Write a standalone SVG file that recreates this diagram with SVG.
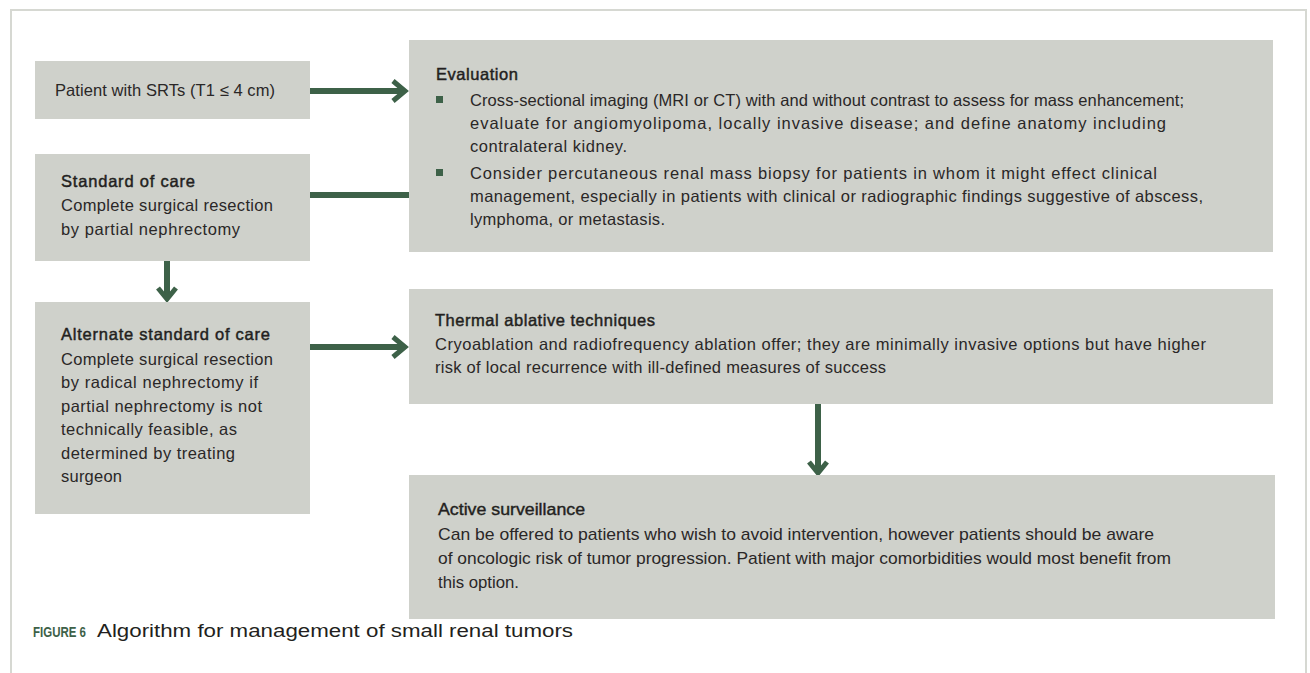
<svg xmlns="http://www.w3.org/2000/svg" width="1310" height="673" viewBox="0 0 1310 673">
<style>
.box{fill:#cfd1cb}
.t{font-family:"Liberation Sans",Arial,sans-serif;font-size:16.5px;fill:#2a2727}
.h{font-family:"Liberation Sans",Arial,sans-serif;font-size:16.5px;fill:#231f20;stroke:#231f20;stroke-width:0.45}
.c{font-family:"Liberation Sans",Arial,sans-serif;font-size:17px;fill:#2a2727}
.ch{font-family:"Liberation Sans",Arial,sans-serif;font-size:17px;fill:#231f20;stroke:#231f20;stroke-width:0.4}
.ln{stroke:#3d6148;stroke-width:6;fill:none}
.hd{stroke:#3d6148;stroke-width:5;fill:none;stroke-linejoin:miter}
.bul{fill:#3d6148}
</style>
<rect x="0" y="0" width="1310" height="673" fill="#ffffff"/>
<path d="M11,673 V10 H1306 V673" fill="none" stroke="#d6d8d2" stroke-width="2"/>

<g id="connectors">
  <line class="ln" x1="310" y1="91" x2="404" y2="91"/>
  <polyline class="hd" points="393,81 405,91 393,101"/>
  <line class="ln" x1="310" y1="195" x2="409" y2="195"/>
  <line class="ln" x1="167" y1="260" x2="167" y2="297"/>
  <polyline class="hd" points="158,288 167,299 176,288"/>
  <line class="ln" x1="310" y1="347" x2="404" y2="347"/>
  <polyline class="hd" points="393,337 405,347 393,357"/>
  <line class="ln" x1="818" y1="404" x2="818" y2="471"/>
  <polyline class="hd" points="809,462 818,473 827,462"/>
</g>

<g id="node-patient">
  <rect class="box" x="35" y="61" width="275" height="58"/>
  <text class="t" x="55" y="96" textLength="220">Patient with SRTs (T1 ≤ 4 cm)</text>
</g>

<g id="node-standard">
  <rect class="box" x="35" y="154" width="275" height="107"/>
  <text class="h" x="61" y="187" textLength="134">Standard of care</text>
  <text class="t" x="61" y="211" textLength="212">Complete surgical resection</text>
  <text class="t" x="61" y="235" textLength="179">by partial nephrectomy</text>
</g>

<g id="node-alternate">
  <rect class="box" x="35" y="302" width="275" height="212"/>
  <text class="h" x="61" y="340" textLength="209">Alternate standard of care</text>
  <text class="t" x="61" y="365" textLength="212">Complete surgical resection</text>
  <text class="t" x="61" y="388" textLength="197">by radical nephrectomy if</text>
  <text class="t" x="61" y="412" textLength="201">partial nephrectomy is not</text>
  <text class="t" x="61" y="435" textLength="176">technically feasible, as</text>
  <text class="t" x="61" y="459" textLength="174">determined by treating</text>
  <text class="t" x="61" y="482" textLength="61">surgeon</text>
</g>

<g id="node-evaluation">
  <rect class="box" x="409" y="40" width="864" height="212"/>
  <text class="h" x="436" y="80" textLength="82">Evaluation</text>
  <rect class="bul" x="436" y="96" width="7" height="7"/>
  <text class="t" x="470" y="106" textLength="714">Cross-sectional imaging (MRI or CT) with and without contrast to assess for mass enhancement;</text>
  <text class="t" x="470" y="129" textLength="696">evaluate for angiomyolipoma, locally invasive disease; and define anatomy including</text>
  <text class="t" x="470" y="152" textLength="157">contralateral kidney.</text>
  <rect class="bul" x="436" y="169" width="7" height="7"/>
  <text class="t" x="470" y="179" textLength="687">Consider percutaneous renal mass biopsy for patients in whom it might effect clinical</text>
  <text class="t" x="470" y="202" textLength="733">management, especially in patients with clinical or radiographic findings suggestive of abscess,</text>
  <text class="t" x="470" y="225" textLength="195">lymphoma, or metastasis.</text>
</g>

<g id="node-thermal">
  <rect class="box" x="409" y="289" width="864" height="115"/>
  <text class="h" x="435" y="326" textLength="220">Thermal ablative techniques</text>
  <text class="t" x="435" y="350" textLength="771">Cryoablation and radiofrequency ablation offer; they are minimally invasive options but have higher</text>
  <text class="t" x="435" y="373" textLength="451">risk of local recurrence with ill-defined measures of success</text>
</g>

<g id="node-surveillance">
  <rect class="box" x="409" y="475" width="866" height="144"/>
  <text class="ch" x="438" y="515" textLength="147" lengthAdjust="spacingAndGlyphs">Active surveillance</text>
  <text class="c" x="438" y="540" textLength="716" lengthAdjust="spacingAndGlyphs">Can be offered to patients who wish to avoid intervention, however patients should be aware</text>
  <text class="c" x="438" y="564" textLength="733" lengthAdjust="spacingAndGlyphs">of oncologic risk of tumor progression. Patient with major comorbidities would most benefit from</text>
  <text class="c" x="438" y="588" textLength="81" lengthAdjust="spacingAndGlyphs">this option.</text>
</g>

<g id="caption">
  <text x="33" y="637" textLength="53" lengthAdjust="spacingAndGlyphs" style="font-family:'Liberation Sans',Arial,sans-serif;font-weight:bold;font-size:15px;fill:#3d6148">FIGURE 6</text>
  <text x="97" y="637" textLength="476" lengthAdjust="spacingAndGlyphs" style="font-family:'Liberation Sans',Arial,sans-serif;font-size:17.5px;fill:#231f20">Algorithm for management of small renal tumors</text>
</g>
</svg>
